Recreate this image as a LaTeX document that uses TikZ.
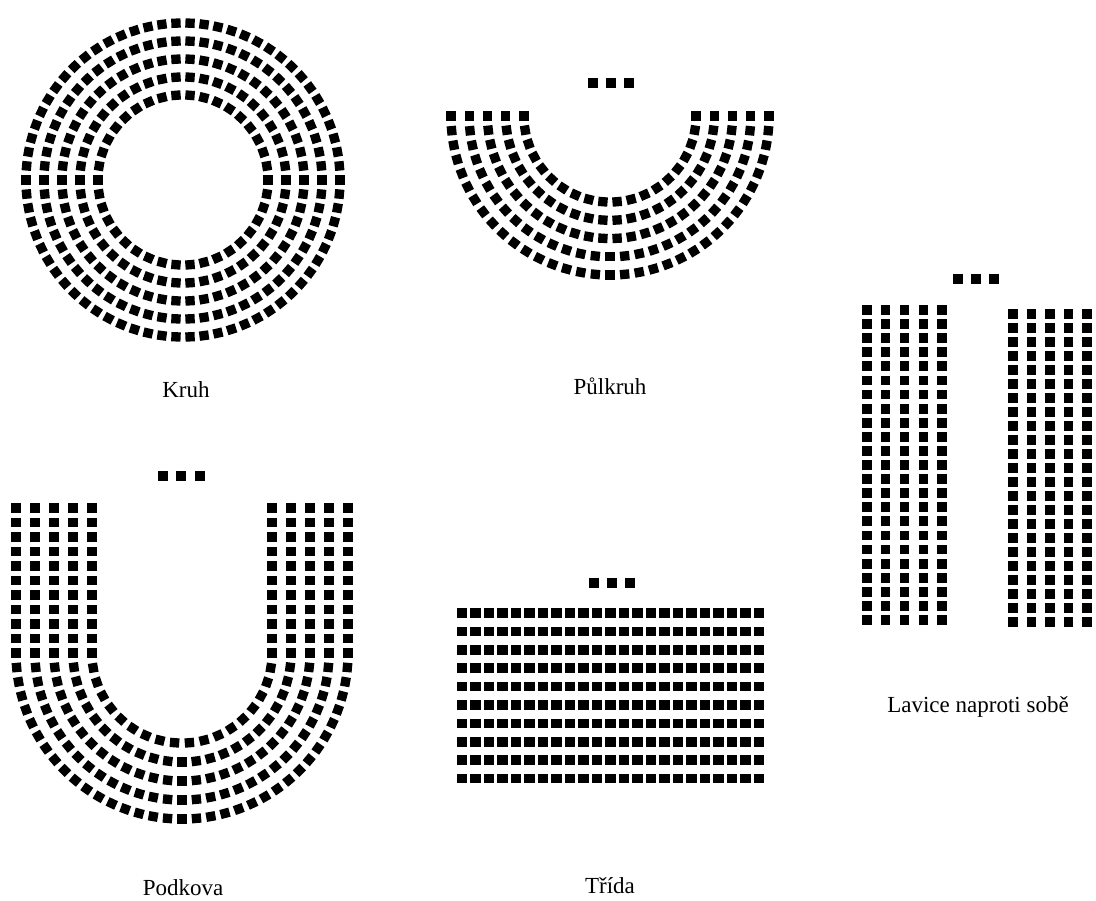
\documentclass[tikz,border=0pt]{standalone}
\usepackage{fontspec}
\setmainfont{Liberation Serif}
\begin{document}
\begin{tikzpicture}[x=0.75pt,y=-0.75pt,
  seat/.style={fill=black,inner sep=0pt,minimum width=7pt,minimum height=7pt,draw=none},
  rseat/.style={fill=black,inner sep=0pt,minimum width=6.8pt,minimum height=7.4pt,draw=none},
  tseat/.style={fill=black,inner sep=0pt,minimum width=7.6pt,minimum height=7.1pt,draw=none},
  lbl/.style={anchor=base,font=\fontsize{17.25}{20}\selectfont}]
\useasboundingbox (0,0) rectangle (1096,900);
% ---------- Kruh ----------
\coordinate (kc) at (183,180);
\foreach \r in {85,103,121,139,157}{
  \pgfmathtruncatemacro\n{round(2*pi*\r/14)}
  \foreach \i in {1,...,\n}{
    \pgfmathsetmacro\a{\i*(360/\n)}
    \node[seat,rotate=-\a] at ([shift={(\a:\r)}]kc) {};
  }
}
\node[lbl] (kruh) at (186,397) {Kruh};
% ---------- Pulkruh ----------
\coordinate (pc) at (610,116);
\foreach \r in {86,104.25,122.5,140.75,159}{
  \pgfmathtruncatemacro\n{round(pi*\r/14.5)}
  \foreach \i in {0,...,\n}{
    \pgfmathsetmacro\a{\i*(180/\n)}
    \node[seat,rotate=-\a] at ([shift={(\a:\r)}]pc) {};
  }
}
\foreach \x in {593,611,629}{\node[seat] at (\x,83) {};}
\node[lbl] (pulkruh) at (610,394) {Půlkruh};
% ---------- Podkova ----------
\coordinate (hc) at (182,653);
\foreach \r in {90,109,128,147,166}{
  \pgfmathtruncatemacro\n{round(pi*\r/14.5)}
  \foreach \i in {0,...,\n}{
    \pgfmathsetmacro\a{\i*(180/\n)}
    \node[seat,rotate=-\a] at ([shift={(\a:\r)}]hc) {};
  }
  \foreach \k in {1,...,10}{
    \node[seat] at ([shift={(-\r,-\k*14.5)}]hc) {};
    \node[seat] at ([shift={(\r,-\k*14.5)}]hc) {};
  }
}
\foreach \x in {163,181,200}{\node[seat] at (\x,476) {};}
\node[lbl] (podkova) at (183,895) {Podkova};
% ---------- Trida ----------
\foreach \j in {0,...,9}{
  \foreach \k in {0,...,22}{
    \node[tseat] at (462+\k*13.5,613+\j*18.4) {};
  }
}
\foreach \x in {594,612,630}{\node[tseat] at (\x,583) {};}
\node[lbl] (trida) at (610,893) {Třída};
% ---------- Lavice naproti sobe ----------
\foreach \j in {0,...,22}{
  \foreach \k in {0,...,4}{
    \node[rseat] at (867+\k*18.75,310+\j*14.09) {};
    \node[rseat] at (1013+\k*18.5,314+\j*14.0) {};
  }
}
\foreach \x in {958,976,994}{\node[rseat] at (\x,279) {};}
\node[lbl] (lavice) at (978,712) {Lavice naproti sobě};
\end{tikzpicture}
\end{document}
